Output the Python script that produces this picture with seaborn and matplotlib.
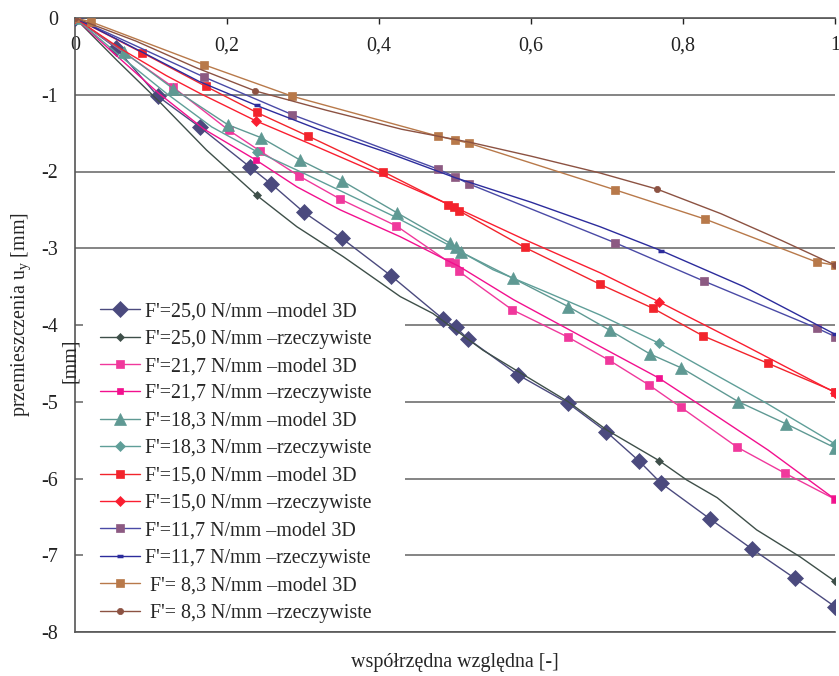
import matplotlib
matplotlib.use("Agg")
import matplotlib.pyplot as plt
from matplotlib.lines import Line2D
from matplotlib.patches import Rectangle
import seaborn as sns
import pandas as pd

# --- dane ---
x_25_m = [0, 0.054, 0.109, 0.164, 0.230, 0.258, 0.301, 0.351, 0.416, 0.484, 0.501, 0.517,
          0.583, 0.649, 0.699, 0.742, 0.771, 0.836, 0.891, 0.947, 1.0]
y_25_m = [0, -0.39, -1.02, -1.42, -1.94, -2.16, -2.53, -2.87, -3.36, -3.92, -4.03, -4.18,
          -4.65, -5.02, -5.39, -5.77, -6.06, -6.53, -6.92, -7.30, -7.67]
x_25_r = [0, 0.055, 0.112, 0.173, 0.239, 0.292, 0.353, 0.428, 0.471, 0.537, 0.649, 0.70,
          0.769, 0.805, 0.845, 0.897, 0.954, 1.0]
y_25_r = [0, -0.55, -1.10, -1.72, -2.31, -2.72, -3.11, -3.63, -3.85, -4.33, -5.0, -5.37,
          -5.77, -6.02, -6.25, -6.67, -7.02, -7.34]

x_21_m = [0, 0.129, 0.202, 0.243, 0.295, 0.349, 0.423, 0.492, 0.500, 0.505, 0.575, 0.649,
          0.703, 0.755, 0.797, 0.871, 0.934, 1.0]
y_21_m = [0, -0.90, -1.46, -1.73, -2.06, -2.36, -2.71, -3.18, -3.19, -3.30, -3.80, -4.16,
          -4.46, -4.78, -5.07, -5.59, -5.93, -6.27]
x_21_r = [0, 0.05, 0.11, 0.17, 0.238, 0.292, 0.349, 0.428, 0.506, 0.577, 0.691, 0.768,
          0.822, 0.912, 1.0]
y_21_r = [0, -0.45, -0.98, -1.45, -1.85, -2.20, -2.50, -2.85, -3.24, -3.67, -4.28, -4.69,
          -5.04, -5.63, -6.27]

x_18_m = [0, 0.064, 0.129, 0.201, 0.245, 0.296, 0.351, 0.424, 0.493, 0.501, 0.508, 0.576,
          0.649, 0.704, 0.757, 0.798, 0.873, 0.936, 1.0]
y_18_m = [0, -0.44, -0.92, -1.39, -1.56, -1.85, -2.12, -2.54, -2.93, -2.98, -3.05, -3.39,
          -3.76, -4.07, -4.38, -4.56, -5.00, -5.29, -5.60]
x_18_r = [0, 0.06, 0.12, 0.18, 0.239, 0.296, 0.349, 0.423, 0.49, 0.55, 0.62, 0.691,
          0.769, 0.91, 1.0]
y_18_r = [0, -0.50, -0.98, -1.42, -1.74, -2.00, -2.25, -2.60, -2.95, -3.28, -3.57, -3.87,
          -4.24, -5.02, -5.55]

x_15_m = [0, 0.088, 0.172, 0.239, 0.307, 0.405, 0.491, 0.499, 0.505, 0.592, 0.691, 0.760,
          0.826, 0.912, 1.0]
y_15_m = [0, -0.45, -0.89, -1.23, -1.54, -2.00, -2.43, -2.46, -2.51, -2.99, -3.47, -3.78,
          -4.14, -4.50, -4.87]
x_15_r = [0, 0.06, 0.12, 0.164, 0.238, 0.307, 0.405, 0.49, 0.59, 0.691, 0.769, 0.88, 1.0]
y_15_r = [0, -0.40, -0.75, -0.98, -1.34, -1.63, -2.05, -2.42, -2.88, -3.32, -3.70, -4.26, -4.88]

x_11_m = [0, 0.170, 0.286, 0.478, 0.500, 0.518, 0.711, 0.828, 0.976, 1.0]
y_11_m = [0, -0.77, -1.26, -1.97, -2.07, -2.16, -2.93, -3.43, -4.04, -4.15]
x_11_r = [0, 0.06, 0.164, 0.239, 0.32, 0.41, 0.5, 0.6, 0.691, 0.771, 0.88, 1.0]
y_11_r = [0, -0.30, -0.83, -1.14, -1.45, -1.75, -2.08, -2.40, -2.72, -3.03, -3.50, -4.12]

x_8_m = [0, 0.021, 0.170, 0.286, 0.478, 0.500, 0.518, 0.711, 0.829, 0.976, 1.0]
y_8_m = [0, -0.05, -0.61, -1.02, -1.54, -1.59, -1.63, -2.24, -2.62, -3.18, -3.22]
x_8_r = [0, 0.08, 0.16, 0.237, 0.33, 0.43, 0.52, 0.6, 0.691, 0.766, 0.85, 0.93, 1.0]
y_8_r = [0, -0.30, -0.65, -0.95, -1.20, -1.45, -1.62, -1.80, -2.02, -2.23, -2.55, -2.90, -3.22]

# punkty z markerami dla serii "rzeczywiste"
mk_25_r = [0, 4, 12, 17]
mk_21_r = [0, 4, 11, 14]
mk_18_r = [0, 4, 12, 14]
mk_15_r = [0, 4, 10, 12]
mk_11_r = [0, 3, 9, 11]
mk_8_r = [0, 3, 9, 12]

labels = ["F'=25,0 N/mm \u2013model 3D", "F'=25,0 N/mm \u2013rzeczywiste",
          "F'=21,7 N/mm \u2013model 3D", "F'=21,7 N/mm \u2013rzeczywiste",
          "F'=18,3 N/mm \u2013model 3D", "F'=18,3 N/mm \u2013rzeczywiste",
          "F'=15,0 N/mm \u2013model 3D", "F'=15,0 N/mm \u2013rzeczywiste",
          "F'=11,7 N/mm \u2013model 3D", "F'=11,7 N/mm \u2013rzeczywiste",
          " F'= 8,3 N/mm \u2013model 3D", " F'= 8,3 N/mm \u2013rzeczywiste"]

series = [
    # x, y, marker idx, line color, marker, size, marker color
    (x_25_m, y_25_m, None, '#4b4a7e', 'D', 8.5, '#4b4a7e'),
    (x_25_r, y_25_r, mk_25_r, '#3e4f49', 'D', 4, '#3e4f49'),
    (x_21_m, y_21_m, None, '#f0389c', 's', 6, '#f0389c'),
    (x_21_r, y_21_r, mk_21_r, '#f2108e', 's', 4.5, '#f2108e'),
    (x_18_m, y_18_m, None, '#5f9993', '^', 8, '#5f9993'),
    (x_18_r, y_18_r, mk_18_r, '#5f9e98', 'D', 5, '#5f9e98'),
    (x_15_m, y_15_m, None, '#f2242c', 's', 6, '#f2242c'),
    (x_15_r, y_15_r, mk_15_r, '#fa1e30', 'D', 5, '#fa1e30'),
    (x_11_m, y_11_m, None, '#4a4aa6', 's', 5.5, '#8c5a82'),
    (x_11_r, y_11_r, mk_11_r, '#2c2c9c', '_', 5, '#2c2c9c'),
    (x_8_m, y_8_m, None, '#b8794a', 's', 5.5, '#b8794a'),
    (x_8_r, y_8_r, mk_8_r, '#8c5242', 'o', 4.5, '#8c5242'),
]

sns.set_style("white")
plt.rcParams['font.family'] = ['Liberation Serif', 'DejaVu Serif']
plt.rcParams['mathtext.fontset'] = 'custom'
plt.rcParams['mathtext.rm'] = 'Liberation Serif'
fs = 14.4

fig, ax = plt.subplots(figsize=(8.39, 6.76), dpi=100)
fig.subplots_adjust(left=75 / 839, right=835 / 839, top=1 - 18 / 676, bottom=1 - 632 / 676)

handles = []
for (xs, ys, idx, lc, m, ms, mc), lab in zip(series, labels):
    df = pd.DataFrame({'x': xs, 'y': ys})
    mew = 2.5 if m == '_' else 0.5
    sns.lineplot(data=df, x='x', y='y', ax=ax, color=lc, linewidth=1.0, marker=m,
                 markersize=ms, markerfacecolor=mc, markeredgecolor=mc,
                 markeredgewidth=mew, markevery=idx, sort=False, estimator=None,
                 zorder=3)
    handles.append(Line2D([], [], color=lc, linewidth=1.0, marker=m, markersize=ms,
                          markerfacecolor=mc, markeredgecolor=mc, markeredgewidth=mew))

ax.set_xlim(0, 1)
ax.set_ylim(-8, 0)
ax.set_xticks([0, 0.2, 0.4, 0.6, 0.8, 1.0])
ax.set_xticklabels(['0', '0,2', '0,4', '0,6', '0,8', '1'])
ax.set_yticks(list(range(-8, 1)))
ax.set_yticklabels([str(v) for v in range(-8, 1)])
ax.tick_params(axis='x', top=True, labeltop=True, bottom=False, labelbottom=False,
               direction='in', length=4, width=1, pad=-27, labelsize=fs, colors='#222222')
ax.tick_params(axis='y', direction='inout', length=10, width=1, pad=7, labelsize=fs,
               colors='#222222')

ax.set_axisbelow(True)
ax.grid(axis='y', color='#6f6f6f', linewidth=1.2)
ax.grid(axis='x', visible=False)
for side in ['left', 'top', 'bottom']:
    ax.spines[side].set_color('#555555')
    ax.spines[side].set_linewidth(1.2)
ax.spines['right'].set_visible(False)

ax.set_xlabel('')
ax.set_ylabel('')

# tło legendy
ax.add_patch(Rectangle((0.011, 0.006), 0.423, 0.56, transform=ax.transAxes,
                       facecolor='white', edgecolor='none', zorder=1))
ax.legend(handles, labels, loc='upper left', bbox_to_anchor=(0.033, 0.537),
          frameon=False, fontsize=fs, handlelength=2.0, handletextpad=0.25,
          labelspacing=0.42, borderaxespad=0, borderpad=0)

fig.text(21 / 839, 1 - 315 / 676, r'przemieszczenia u$_\mathregular{y}$ [mm]',
         rotation=90, ha='center', va='center', fontsize=fs)
fig.text(70 / 839, 1 - 361 / 676, '[mm]', rotation=90, ha='center', va='center',
         fontsize=fs)
fig.text(455 / 839, 1 - 663 / 676, 'współrzędna względna [-]', ha='center',
         va='center', fontsize=fs)

fig.savefig('out.png', dpi=100)
